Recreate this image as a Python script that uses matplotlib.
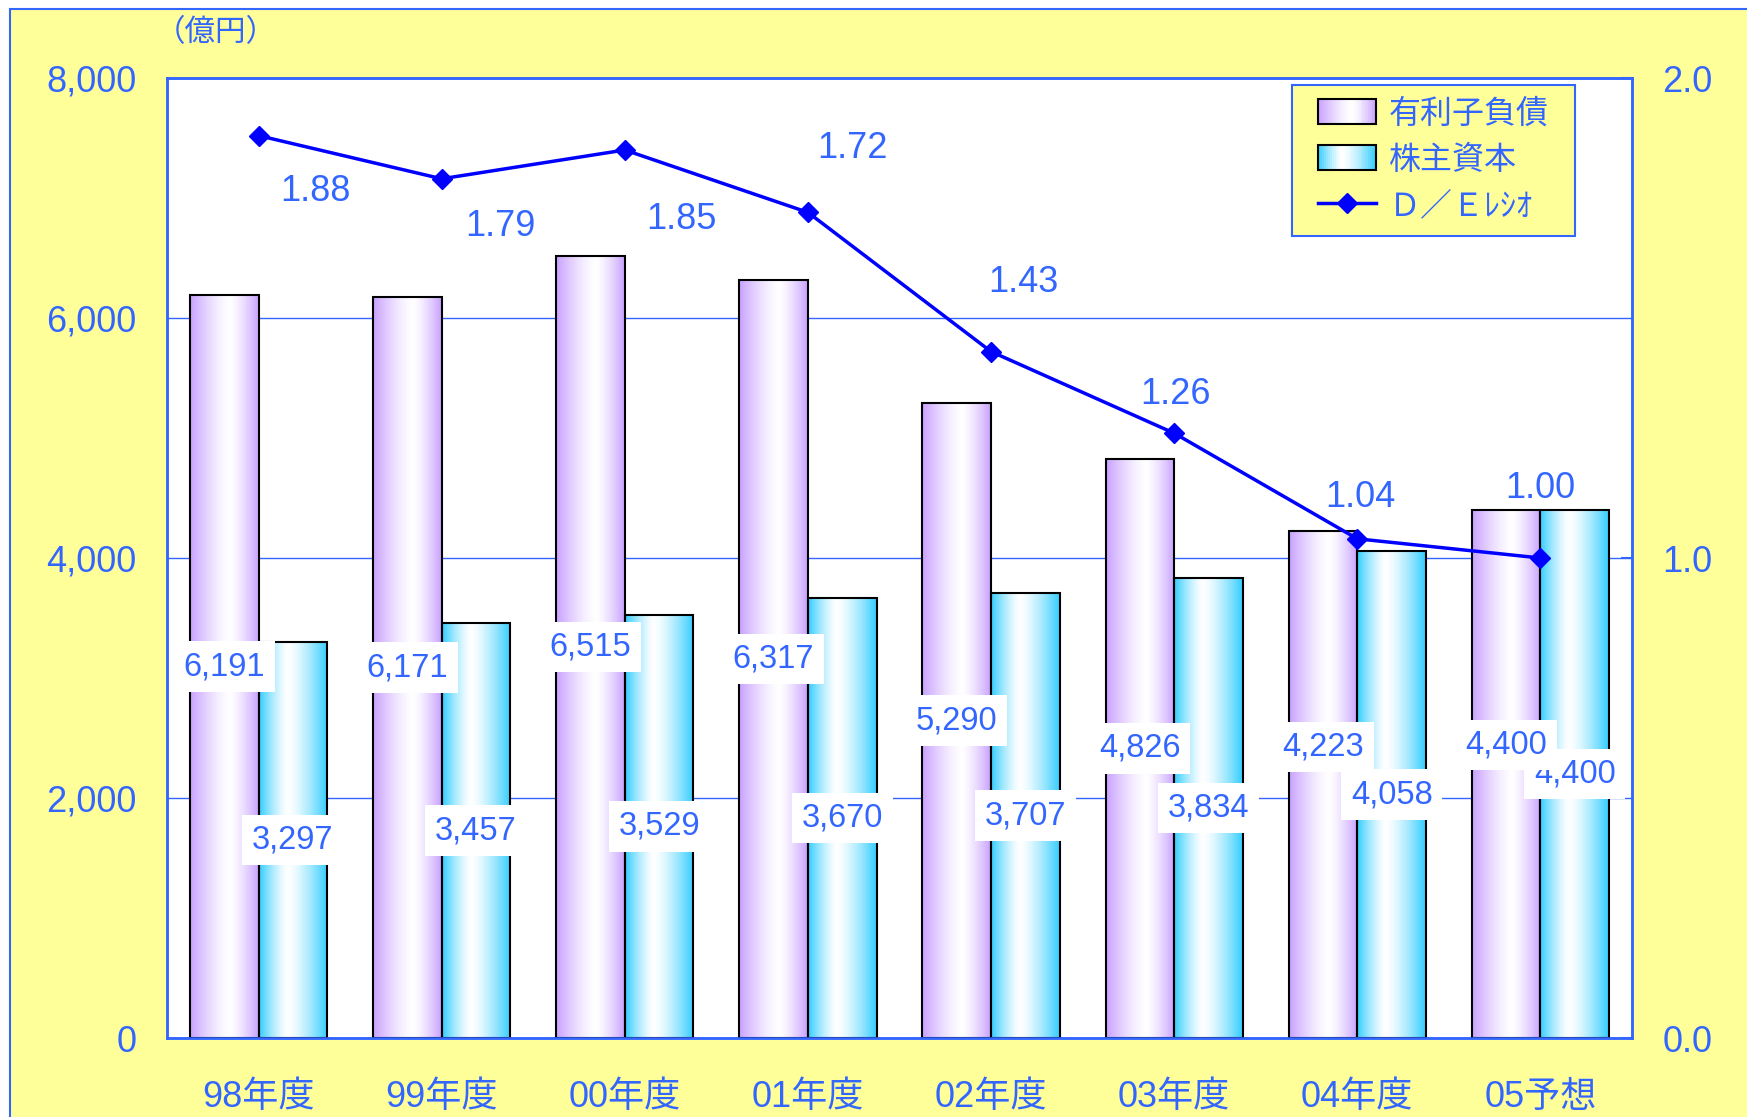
import matplotlib
matplotlib.use('Agg')
import matplotlib.pyplot as plt
import numpy as np
from matplotlib.patches import Rectangle, Patch
from matplotlib.legend_handler import HandlerBase

plt.rcParams['font.family'] = ['Liberation Sans', 'Noto Sans CJK JP', 'DejaVu Sans']

# data
categories = ['98年度', '99年度', '00年度', '01年度', '02年度', '03年度', '04年度', '05予想']
debt = [6191, 6171, 6515, 6317, 5290, 4826, 4223, 4400]      # 有利子負債
equity = [3297, 3457, 3529, 3670, 3707, 3834, 4058, 4400]    # 株主資本
de_ratio = [1.88, 1.79, 1.85, 1.72, 1.43, 1.26, 1.04, 1.00]  # D/Eレシオ

# label placement (points)
de_offsets = [(41, -40), (42, -34), (41, -50), (32, 46), (23, 50), (1, 28), (2, 30), (0, 50)]
debt_lab_dy = [0, 0, 0, 0, 0, 0, 27, 21]
eq_lab_dy = [0, 0, 0, 0, 0, 0, 0, 0]

BLUE = '#3366FF'
LINE = '#0000FF'
YELLOW = '#FFFF99'
PURPLE = np.array([200, 160, 255]) / 255
CYAN = np.array([50, 205, 255]) / 255

W, H = 1747, 1117


def gradient(edge, peak, n=256):
    t = np.linspace(0, 1, n)
    d = np.where(t < peak, (peak - t) / peak, (t - peak) / (1 - peak))
    m = d ** 1.4
    rgb = 1 - m[:, None] * (1 - edge[None, :])
    return rgb


g_purple = gradient(PURPLE, 0.58)
g_cyan = gradient(CYAN, 0.42)


class GradHandler(HandlerBase):
    def __init__(self, grad):
        super().__init__()
        self.grad = grad

    def create_artists(self, legend, orig_handle, xdescent, ydescent,
                       width, height, fontsize, trans):
        n = 30
        arts = []
        for k in range(n):
            c = self.grad[int((k + 0.5) / n * len(self.grad))]
            arts.append(Rectangle((-xdescent + k * width / n, -ydescent), width / n * 1.05, height,
                                  facecolor=c, edgecolor='none', transform=trans))
        arts.append(Rectangle((-xdescent, -ydescent), width, height, fill=False,
                              edgecolor='black', lw=1.5, transform=trans))
        return arts


fig = plt.figure(figsize=(W / 100, H / 100), dpi=100)
fig.patch.set_facecolor('white')
fig.patches.append(Rectangle((10 / W, -0.1), 1.2, 1.1 - 9 / H, transform=fig.transFigure,
                             facecolor=YELLOW, edgecolor=BLUE, lw=1.5, zorder=-1))

ax = fig.add_axes([167 / W, 1 - 1038 / H, (1632 - 167) / W, (1038 - 78) / H])
ax.set_facecolor('white')

x = np.arange(len(categories))
w = 0.375
bars1 = ax.bar(x - w / 2, debt, w, fill=False, edgecolor='black', lw=1.5, zorder=3)
bars2 = ax.bar(x + w / 2, equity, w, fill=False, edgecolor='black', lw=1.5, zorder=3)

for bars, g in ((bars1, g_purple), (bars2, g_cyan)):
    for p in bars:
        ax.imshow(g[None, :, :], extent=[p.get_x(), p.get_x() + p.get_width(), 0, p.get_height()],
                  aspect='auto', interpolation='bilinear', zorder=2)

ax.set_xlim(-0.5, len(categories) - 0.5)
ax.set_ylim(0, 8000)
ax.set_yticks([0, 2000, 4000, 6000, 8000])
ax.set_yticklabels([f'{v:,}' for v in [0, 2000, 4000, 6000, 8000]])
ax.set_xticks(x)
ax.set_xticklabels(categories)
ax.tick_params(axis='y', length=0, pad=22, labelsize=26, labelcolor=BLUE)
ax.tick_params(axis='x', length=0, pad=30, labelsize=26, labelcolor=BLUE)
ax.yaxis.grid(True, color=BLUE, lw=1.0)
ax.set_axisbelow(True)

for p, v, dy in zip(bars2, equity, eq_lab_dy):
    ax.annotate(f'{v:,}', xy=(p.get_x() + p.get_width() / 2, v / 2), xytext=(0, dy),
                textcoords='offset points', ha='center', va='center', fontsize=23.5, color=BLUE,
                bbox=dict(boxstyle='square,pad=0.3', fc='white', ec='none'), zorder=5)
for p, v, dy in zip(bars1, debt, debt_lab_dy):
    ax.annotate(f'{v:,}', xy=(p.get_x() + p.get_width() / 2, v / 2), xytext=(0, dy),
                textcoords='offset points', ha='center', va='center', fontsize=23.5, color=BLUE,
                bbox=dict(boxstyle='square,pad=0.3', fc='white', ec='none'), zorder=5)

ax2 = ax.twinx()
line, = ax2.plot(x, de_ratio, color=LINE, lw=2.5, marker='D', ms=10.5, zorder=4)
ax2.set_ylim(0, 2.0)
ax2.set_yticks([0, 1, 2])
ax2.set_yticklabels(['0.0', '1.0', '2.0'])
ax2.tick_params(axis='y', direction='in', length=8, width=1.5, color=BLUE, pad=22,
                labelsize=26, labelcolor=BLUE)
for xi, v, off in zip(x, de_ratio, de_offsets):
    ax2.annotate(f'{v:.2f}', xy=(xi, v), xytext=off, textcoords='offset points',
                 ha='center', va='center', fontsize=26, color=BLUE)

for a in (ax, ax2):
    for s in a.spines.values():
        s.set_color(BLUE)
        s.set_linewidth(1.8)

fig.text(216 / W, 1 - 33 / H, '（億円）', ha='center', va='center', fontsize=22, color=BLUE)

# legend
fig.patches.append(Rectangle((1292 / W, 1 - 236 / H), (1575 - 1292) / W, (236 - 85) / H,
                             transform=fig.transFigure, facecolor=YELLOW, edgecolor=BLUE,
                             lw=1.5, zorder=4))
h1 = Patch(label='有利子負債')
h2 = Patch(label='株主資本')
leg = fig.legend([h1, h2, line], ['有利子負債', '株主資本', 'Ｄ／Ｅﾚｼｵ'],
                 handler_map={h1: GradHandler(g_purple), h2: GradHandler(g_cyan)},
                 loc='center', bbox_to_anchor=(1433.5 / W, 1 - 160.5 / H),
                 bbox_transform=fig.transFigure, frameon=False, fontsize=23,
                 labelcolor=BLUE, handlelength=1.8, handleheight=0.8,
                 handletextpad=0.4, labelspacing=0.5, borderpad=0.2)
leg.set_zorder(5)

fig.savefig('out.png', dpi=100)
